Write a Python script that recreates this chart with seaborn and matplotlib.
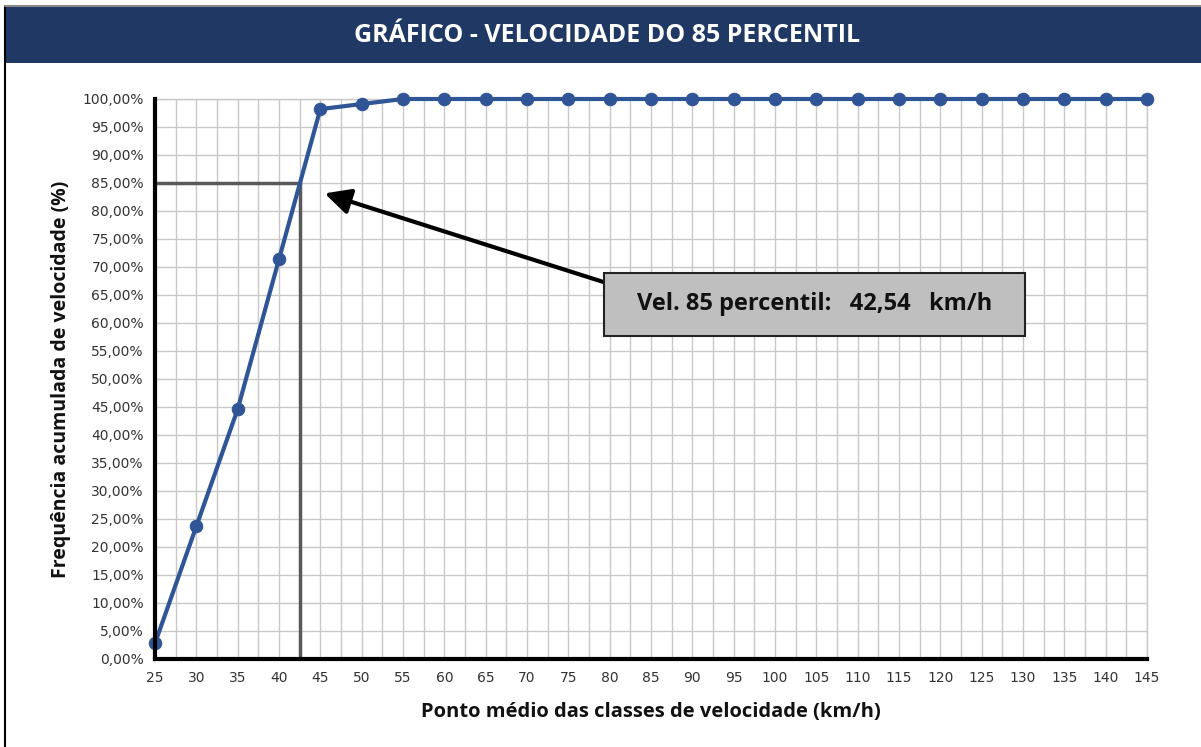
import matplotlib
matplotlib.use("Agg")
import matplotlib.pyplot as plt
import matplotlib.ticker as mticker
from matplotlib.patches import Rectangle
import seaborn as sns
import pandas as pd

# Data
velocidades = [25, 30, 35, 40, 45, 50, 55, 60, 65, 70, 75, 80, 85, 90, 95,
               100, 105, 110, 115, 120, 125, 130, 135, 140, 145]
freq_acum = [2.8, 23.7, 44.6, 71.4, 98.2, 99.1, 100, 100, 100, 100, 100, 100, 100,
             100, 100, 100, 100, 100, 100, 100, 100, 100, 100, 100, 100]
v85 = 42.54
p85 = 85
titulo = "GRÁFICO - VELOCIDADE DO 85 PERCENTIL"
rotulo_x = "Ponto médio das classes de velocidade (km/h)"
rotulo_y = "Frequência acumulada de velocidade (%)"
caixa_texto = "Vel. 85 percentil:   42,54   km/h"

sns.set_theme(style="white")
plt.rcParams['font.family'] = ['Open Sans', 'DejaVu Sans']

W, H = 1201, 747
fig = plt.figure(figsize=(W / 100, H / 100), dpi=100)
ax = fig.add_axes([155 / W, 1 - 659 / H, (1147 - 155) / W, (659 - 99) / H])

df = pd.DataFrame({"v": velocidades, "f": freq_acum})

# 85 percentile guide lines
ax.plot([25, v85], [p85, p85], color="#595959", lw=2.5, zorder=2, clip_on=False)
ax.plot([v85, v85], [0, p85], color="#595959", lw=2.5, zorder=2, clip_on=False)

sns.lineplot(data=df, x="v", y="f", ax=ax, color="#2f5597", lw=3,
             marker="o", markersize=9, markeredgecolor="#2f5597", zorder=4,
             clip_on=False)

ax.set_xlim(25, 145)
ax.set_ylim(0, 100)
ax.xaxis.set_major_locator(mticker.MultipleLocator(5))
ax.xaxis.set_minor_locator(mticker.MultipleLocator(2.5))
ax.yaxis.set_major_locator(mticker.MultipleLocator(5))
ax.yaxis.set_major_formatter(mticker.FuncFormatter(
    lambda v, p: f"{v:.2f}".replace(".", ",") + "%"))

ax.grid(True, which="major", axis="y", color="#c8c8c8", lw=1)
ax.grid(True, which="both", axis="x", color="#c8c8c8", lw=1)
ax.set_axisbelow(True)

for s in ["top", "right"]:
    ax.spines[s].set_visible(True)
    ax.spines[s].set_color("#c8c8c8")
    ax.spines[s].set_linewidth(1)
for s in ["left", "bottom"]:
    ax.spines[s].set_color("black")
    ax.spines[s].set_linewidth(3)
    ax.spines[s].set_zorder(5)

ax.tick_params(axis="both", which="major", direction="out", length=5, width=3,
               color="black", labelsize=10, labelcolor="#333333", pad=3)
ax.tick_params(axis="both", which="minor", length=0)
ax.tick_params(axis="x", pad=4)
for lab in ax.get_xticklabels() + ax.get_yticklabels():
    lab.set_family("DejaVu Sans")

ax.set_xlabel(rotulo_x, fontsize=14.5, fontweight="bold", color="#111111", labelpad=12)
ax.set_ylabel(rotulo_y, fontsize=14, fontweight="bold", color="#111111", labelpad=8)

# Arrow & annotation box
ax.annotate("", xy=(45.2, 83.3), xytext=(79.5, 67.2),
            arrowprops=dict(arrowstyle="-|>,head_length=1.3,head_width=0.65",
                            color="black", lw=3), zorder=6)
x0 = 25 + (604 - 155) / (992 / 120)
x1 = 25 + (1025 - 155) / (992 / 120)
y0 = (659 - 336) / 5.6
y1 = (659 - 273) / 5.6
ax.add_patch(Rectangle((x0, y0), x1 - x0, y1 - y0, facecolor="#bfbfbf",
                       edgecolor="#222222", lw=1.5, zorder=7))
ax.text((x0 + x1) / 2, (y0 + y1) / 2, caixa_texto, ha="center", va="center",
        fontsize=17, fontweight="bold", color="#111111", zorder=8)

# Title bar & frame
fig.patches.append(Rectangle((5 / W, 1 - 63 / H), 1 - 5 / W, 56 / H,
                             transform=fig.transFigure, facecolor="#203864",
                             edgecolor="none", zorder=0))
fig.lines.append(plt.Line2D([5 / W, 5 / W], [0, 1 - 6 / H], transform=fig.transFigure,
                            color="black", lw=1.5))
fig.lines.append(plt.Line2D([5 / W, 1], [1 - 6 / H, 1 - 6 / H], transform=fig.transFigure,
                            color="#888888", lw=1.5))
fig.text(607 / W, 1 - 36 / H, titulo, ha="center", va="center", color="white",
         fontsize=18, fontweight="bold")

fig.savefig("out.png", dpi=100)
